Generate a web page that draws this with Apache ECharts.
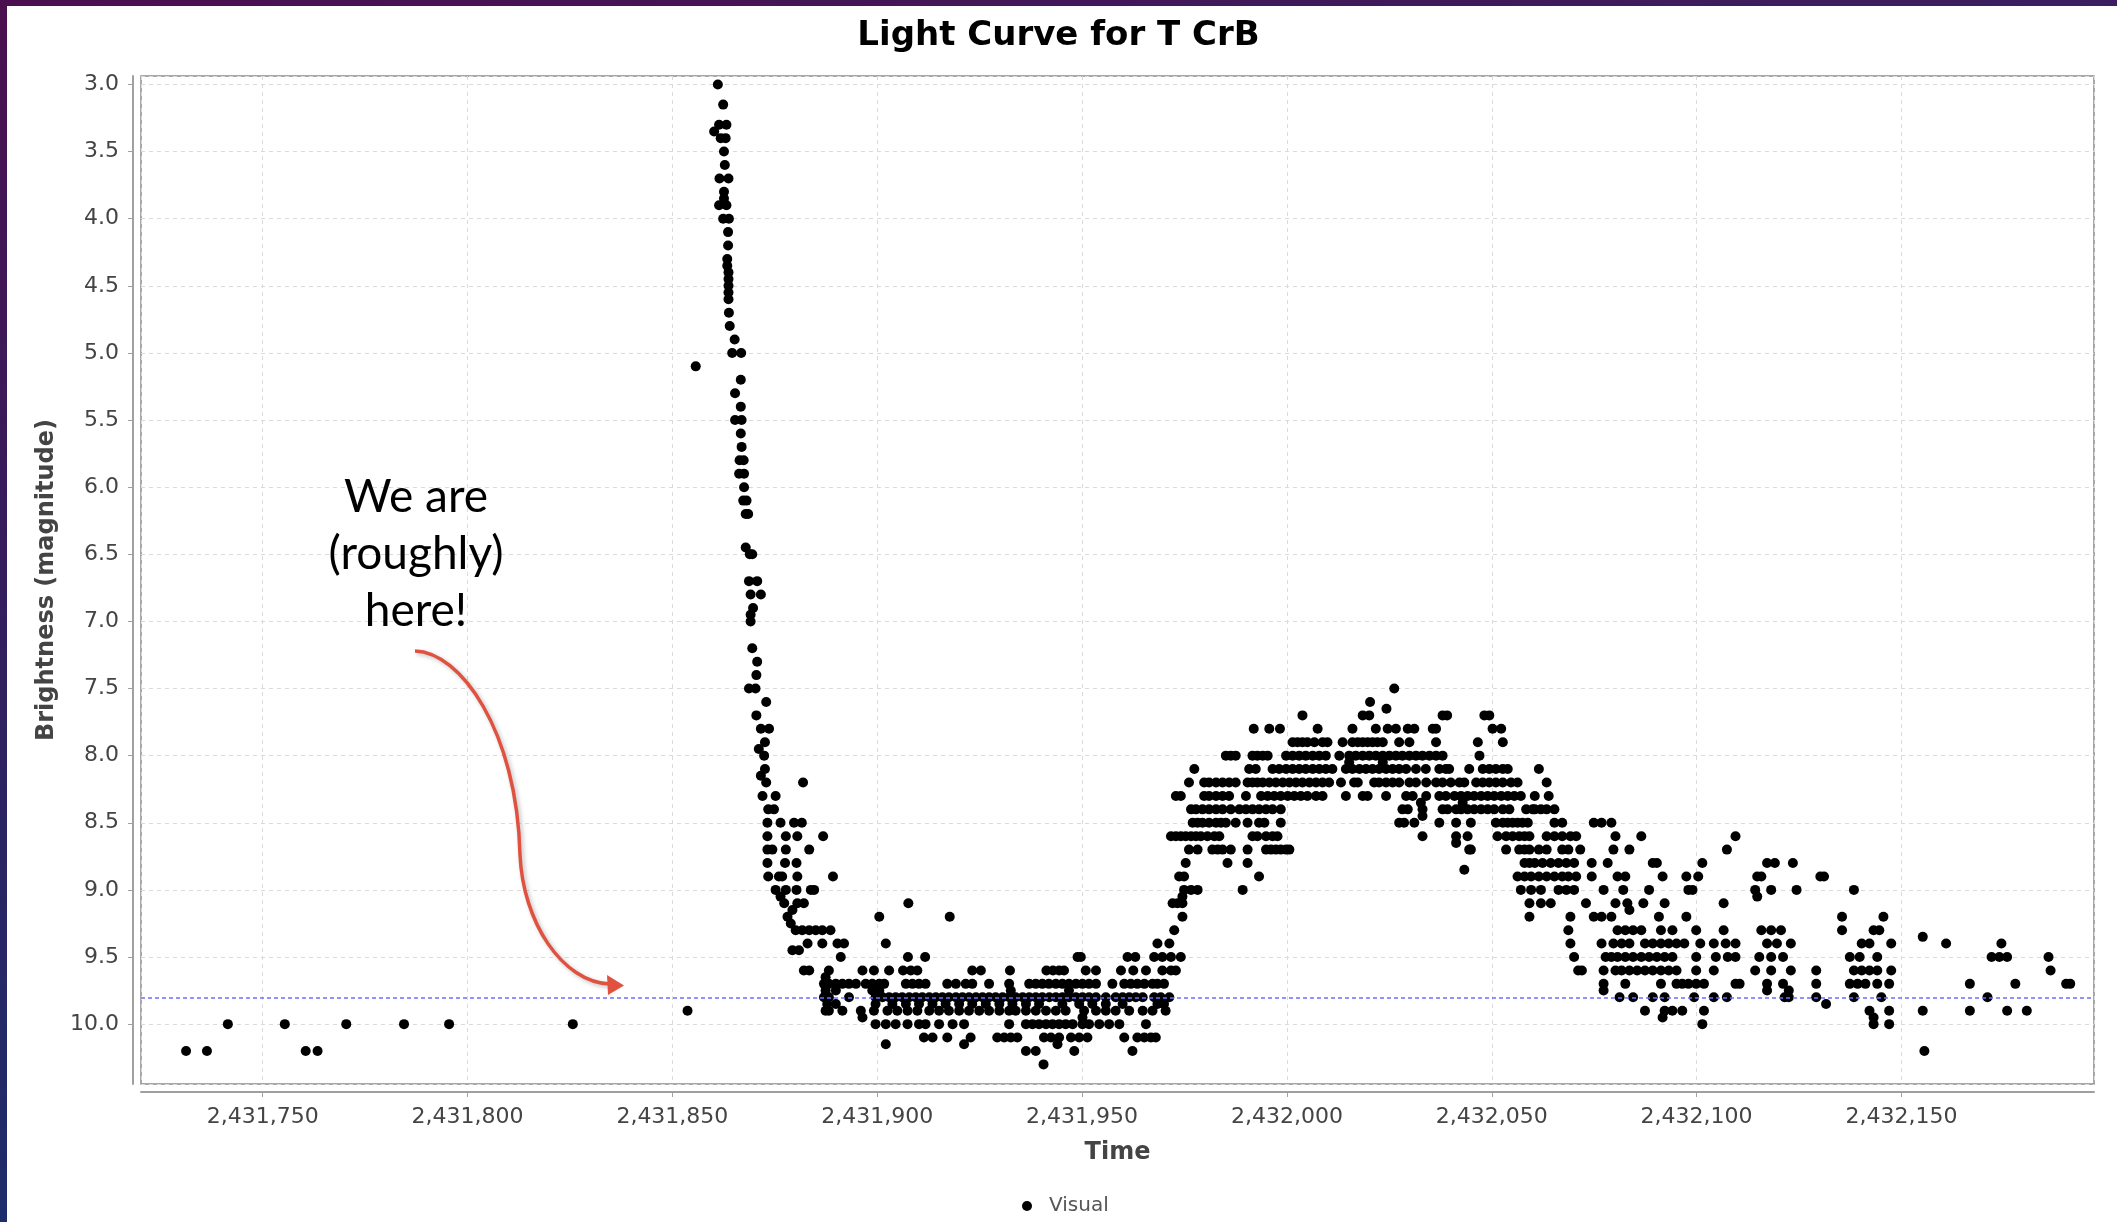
<!DOCTYPE html>
<html>
<head>
<meta charset="utf-8">
<script src="https://cdn.jsdelivr.net/npm/echarts@6/dist/echarts.min.js"></script>
<style>
html,body{margin:0;padding:0;background:#fff;}
#main{width:2117px;height:1222px;}
</style>
</head>
<body>
<div id="main"></div>
<script>
// ---- DATA: [Julian Date, visual magnitude] ----
const chartTitle = 'Light Curve for T CrB';
const xAxisName = 'Time';
const yAxisName = 'Brightness (magnitude)';
const seriesName = 'Visual';
const quiescentLevel = 9.8;
const annotationLines = ['We are', '(roughly)', 'here!'];

const quiescentBefore = [
[2431731.3,10.2],[2431736.4,10.2],[2431741.5,10.0],[2431755.4,10.0],[2431760.5,10.2],[2431763.4,10.2],
[2431770.4,10.0],[2431784.5,10.0],[2431795.5,10.0],[2431825.7,10.0],[2431853.7,9.9]
];

const outburstPeak = [
[2431861.1,3.0],[2431862.4,3.15],[2431863.2,3.3],[2431861.4,3.3],[2431860.2,3.35],[2431861.8,3.4],[2431863.0,3.4],
[2431862.6,3.5],[2431862.8,3.6],[2431861.5,3.7],[2431863.7,3.7],[2431862.6,3.8],[2431862.6,3.85],[2431861.4,3.9],
[2431863.2,3.9],[2431862.4,4.0],[2431863.8,4.0],[2431863.6,4.1],[2431863.6,4.2],[2431863.4,4.3],[2431863.4,4.35],
[2431863.7,4.4],[2431863.7,4.45],[2431863.7,4.5],[2431863.7,4.55],[2431863.7,4.6],[2431863.8,4.7],[2431864.0,4.8],
[2431865.2,4.9],[2431864.6,5.0],[2431866.8,5.0],[2431855.7,5.1],[2431866.7,5.2],[2431865.3,5.3],[2431866.7,5.4],
[2431865.3,5.5],[2431866.9,5.5],[2431866.7,5.6],[2431866.9,5.7],[2431866.4,5.8],[2431867.4,5.8],[2431866.3,5.9],
[2431867.5,5.9],[2431867.5,6.0],[2431867.3,6.1],[2431868.1,6.1],[2431867.9,6.2],[2431868.5,6.2]
];

const outburstDecline = [
[2431867.9,6.45],[2431868.9,6.5],[2431869.5,6.5],[2431868.7,6.7],[2431870.7,6.7],[2431869.1,6.8],[2431871.6,6.8],
[2431869.7,6.9],[2431869.1,6.95],[2431869.1,7.0],[2431869.5,7.2],[2431870.7,7.3],[2431870.5,7.4],[2431868.7,7.5],
[2431870.3,7.5],[2431872.9,7.6],[2431870.5,7.7],[2431871.6,7.8],[2431873.6,7.8],[2431872.6,7.9],[2431871.1,7.95],
[2431872.4,8.0],[2431872.6,8.1],[2431871.6,8.15],[2431872.9,8.2],[2431881.9,8.2],[2431872.0,8.3],[2431875.2,8.3],
[2431873.4,8.4],[2431874.8,8.4],[2431873.2,8.5],[2431876.4,8.5],[2431879.7,8.5],[2431881.6,8.5],[2431873.2,8.6],
[2431877.7,8.6],[2431880.5,8.6],[2431886.8,8.6],[2431873.2,8.7],[2431874.4,8.7],[2431877.7,8.7],[2431883.4,8.7],
[2431873.2,8.8],[2431877.5,8.8],[2431880.3,8.8],[2431873.4,8.9],[2431876.0,8.9],[2431876.8,8.9],[2431880.5,8.9],
[2431889.2,8.9],[2431875.2,9.0],[2431877.7,9.0],[2431880.3,9.0],[2431883.8,9.0],[2431884.6,9.0],[2431876.4,9.05],
[2431877.3,9.1],[2431880.5,9.1],[2431882.1,9.1],[2431879.3,9.15],[2431878.1,9.2],[2431878.9,9.25],[2431880.1,9.3],
[2431881.7,9.3],[2431883.4,9.3],[2431885.0,9.3],[2431886.6,9.3],[2431879.3,9.45],[2431880.9,9.45],[2431883.0,9.4],
[2431886.6,9.4],[2431882.1,9.6],[2431883.4,9.6],[2431887.4,9.65],[2431887.0,9.7],[2431887.4,9.75],[2431887.0,9.8],
[2431887.8,9.85],[2431887.4,9.9]
];

const minimumPhase = [
[2431907.6,9.1],[2431900.5,9.2],[2431917.7,9.2],[2431888.6,9.3],
[2431890.3,9.4],[2431891.9,9.4],[2431902.1,9.4],
[2431891.1,9.5],[2431907.5,9.5],[2431911.7,9.5],[2431948.9,9.5],[2431949.7,9.5],[2431961.1,9.5],[2431963.0,9.5],
[2431888.2,9.6],[2431896.4,9.6],[2431899.2,9.6],[2431902.9,9.6],[2431906.3,9.6],[2431908.2,9.6],[2431909.8,9.6],
[2431923.2,9.6],[2431925.3,9.6],[2431932.4,9.6],[2431941.3,9.6],[2431942.9,9.6],[2431944.4,9.6],[2431945.6,9.6],
[2431950.9,9.6],[2431953.4,9.6],[2431959.5,9.6],[2431962.5,9.6],[2431965.6,9.6],
[2431888.2,9.7],[2431889.9,9.7],[2431891.5,9.7],[2431893.1,9.7],[2431894.8,9.7],[2431897.2,9.7],[2431898.8,9.7],
[2431900.5,9.7],[2431901.7,9.7],[2431907.0,9.7],[2431908.6,9.7],[2431910.2,9.7],[2431911.8,9.7],[2431917.1,9.7],
[2431919.2,9.7],[2431921.6,9.7],[2431923.2,9.7],[2431927.3,9.7],[2431932.2,9.7],[2431937.1,9.7],[2431938.7,9.7],
[2431940.3,9.7],[2431941.9,9.7],[2431943.6,9.7],[2431945.2,9.7],[2431946.8,9.7],[2431948.5,9.7],[2431950.1,9.7],
[2431951.7,9.7],[2431953.4,9.7],[2431957.4,9.7],[2431960.3,9.7],[2431961.9,9.7],[2431963.5,9.7],[2431965.2,9.7],
[2431889.9,9.75],[2431898.8,9.75],[2431900.5,9.75],[2431932.6,9.75],[2431946.8,9.75],
[2431888.2,9.8],[2431893.1,9.8],[2431899.6,9.8],[2431901.3,9.8],[2431902.9,9.8],[2431904.5,9.8],[2431906.1,9.8],
[2431907.8,9.8],[2431909.4,9.8],[2431911.0,9.8],[2431912.7,9.8],[2431914.3,9.8],[2431915.9,9.8],[2431917.5,9.8],
[2431919.2,9.8],[2431920.8,9.8],[2431922.4,9.8],[2431924.1,9.8],[2431925.7,9.8],[2431927.3,9.8],[2431928.9,9.8],
[2431930.6,9.8],[2431932.2,9.8],[2431933.8,9.8],[2431935.5,9.8],[2431937.1,9.8],[2431938.7,9.8],[2431940.3,9.8],
[2431942.0,9.8],[2431943.6,9.8],[2431945.2,9.8],[2431946.8,9.8],[2431948.5,9.8],[2431950.1,9.8],[2431951.7,9.8],
[2431953.4,9.8],[2431955.8,9.8],[2431958.2,9.8],[2431959.9,9.8],[2431961.5,9.8],[2431963.1,9.8],[2431964.8,9.8],
[2431889.9,9.85],[2431899.6,9.85],[2431903.7,9.85],[2431907.0,9.85],[2431910.2,9.85],[2431913.5,9.85],[2431916.7,9.85],
[2431920.0,9.85],[2431923.2,9.85],[2431926.5,9.85],[2431929.8,9.85],[2431933.0,9.85],[2431936.3,9.85],[2431939.5,9.85],
[2431945.2,9.85],[2431949.3,9.85],[2431952.5,9.85],[2431955.8,9.85],[2431959.9,9.85],
[2431888.2,9.9],[2431891.5,9.9],[2431896.0,9.9],[2431899.2,9.9],[2431902.5,9.9],[2431904.9,9.9],[2431907.4,9.9],
[2431909.8,9.9],[2431912.7,9.9],[2431915.1,9.9],[2431917.5,9.9],[2431920.0,9.9],[2431922.4,9.9],[2431924.9,9.9],
[2431927.3,9.9],[2431929.8,9.9],[2431932.2,9.9],[2431933.8,9.9],[2431936.3,9.9],[2431938.7,9.9],[2431941.2,9.9],
[2431943.6,9.9],[2431946.0,9.9],[2431950.5,9.9],[2431953.4,9.9],[2431955.8,9.9],[2431958.2,9.9],[2431961.5,9.9],
[2431964.8,9.9],
[2431896.4,9.95],[2431950.1,9.95],
[2431899.6,10.0],[2431902.1,10.0],[2431904.5,10.0],[2431907.4,10.0],[2431910.2,10.0],[2431911.8,10.0],[2431915.1,10.0],
[2431918.4,10.0],[2431921.2,10.0],[2431932.2,10.0],[2431936.3,10.0],[2431937.9,10.0],[2431939.5,10.0],[2431941.2,10.0],
[2431942.8,10.0],[2431944.4,10.0],[2431946.0,10.0],[2431947.7,10.0],[2431950.1,10.0],[2431951.7,10.0],[2431954.2,10.0],
[2431956.6,10.0],[2431959.1,10.0],[2431965.6,10.0],
[2431911.4,10.1],[2431913.5,10.1],[2431917.1,10.1],[2431922.8,10.1],[2431929.3,10.1],[2431931.0,10.1],[2431932.6,10.1],
[2431934.2,10.1],[2431940.7,10.1],[2431942.4,10.1],[2431944.4,10.1],[2431947.3,10.1],[2431949.3,10.1],[2431951.3,10.1],
[2431960.3,10.1],[2431963.5,10.1],[2431965.2,10.1],
[2431902.1,10.15],[2431921.2,10.15],[2431944.0,10.15],
[2431936.3,10.2],[2431938.7,10.2],[2431948.1,10.2],[2431962.3,10.2],
[2431940.6,10.3]
];

const secondaryMaximum = [
[2432026.2,7.5],[2432020.3,7.6],[2432024.3,7.65],
[2432003.8,7.7],[2432018.5,7.7],[2432020.1,7.7],[2432038.0,7.7],[2432039.1,7.7],[2432048.2,7.7],[2432049.4,7.7],
[2431991.9,7.8],[2431995.7,7.8],[2431998.3,7.8],[2432007.5,7.8],[2432016.0,7.8],[2432021.7,7.8],[2432024.6,7.8],
[2432026.6,7.8],[2432029.5,7.8],[2432031.1,7.8],[2432035.6,7.8],[2432036.4,7.8],[2432050.2,7.8],[2432052.3,7.8],
[2432001.4,7.9],[2432002.6,7.9],[2432003.8,7.9],[2432005.0,7.9],[2432006.7,7.9],[2432008.7,7.9],[2432009.9,7.9],
[2432013.6,7.9],[2432016.0,7.9],[2432017.3,7.9],[2432018.5,7.9],[2432019.7,7.9],[2432020.9,7.9],[2432022.1,7.9],
[2432023.4,7.9],[2432027.4,7.9],[2432029.9,7.9],[2432036.4,7.9],[2432046.6,7.9],[2432052.7,7.9],
[2431985.1,8.0],[2431986.3,8.0],[2431987.5,8.0],[2431991.6,8.0],[2431992.8,8.0],[2431994.1,8.0],[2431995.3,8.0],
[2431999.8,8.0],[2432001.4,8.0],[2432003.0,8.0],[2432004.6,8.0],[2432006.3,8.0],[2432007.9,8.0],[2432009.5,8.0],
[2432012.8,8.0],[2432015.2,8.0],[2432016.8,8.0],[2432018.5,8.0],[2432020.1,8.0],[2432021.7,8.0],[2432023.4,8.0],
[2432025.0,8.0],[2432026.6,8.0],[2432028.2,8.0],[2432029.9,8.0],[2432031.5,8.0],[2432033.1,8.0],[2432034.8,8.0],
[2432036.4,8.0],[2432038.0,8.0],[2432047.0,8.0],
[2432015.2,8.05],[2432023.4,8.05],
[2431977.4,8.1],[2431990.8,8.1],[2431992.4,8.1],[2431996.5,8.1],[2431998.1,8.1],[2431999.8,8.1],[2432001.4,8.1],
[2432003.0,8.1],[2432004.6,8.1],[2432006.3,8.1],[2432007.9,8.1],[2432009.5,8.1],[2432011.1,8.1],[2432014.4,8.1],
[2432016.0,8.1],[2432017.7,8.1],[2432019.3,8.1],[2432020.9,8.1],[2432022.5,8.1],[2432024.2,8.1],[2432025.8,8.1],
[2432027.4,8.1],[2432029.1,8.1],[2432031.5,8.1],[2432033.9,8.1],[2432037.2,8.1],[2432038.8,8.1],[2432039.6,8.1],
[2432044.5,8.1],[2432047.8,8.1],[2432049.4,8.1],[2432051.0,8.1],[2432052.7,8.1],[2432053.9,8.1],
[2431976.1,8.2],[2431979.8,8.2],[2431981.0,8.2],[2431982.7,8.2],[2431984.3,8.2],[2431985.9,8.2],[2431987.5,8.2],
[2431990.4,8.2],[2431991.6,8.2],[2431992.8,8.2],[2431994.1,8.2],[2431995.7,8.2],[2431997.3,8.2],[2431999.0,8.2],
[2432000.6,8.2],[2432002.2,8.2],[2432003.8,8.2],[2432005.5,8.2],[2432007.1,8.2],[2432008.7,8.2],[2432010.3,8.2],
[2432013.2,8.2],[2432016.4,8.2],[2432017.3,8.2],[2432021.3,8.2],[2432022.5,8.2],[2432024.2,8.2],[2432025.8,8.2],
[2432027.4,8.2],[2432029.9,8.2],[2432031.5,8.2],[2432034.0,8.2],[2432036.4,8.2],[2432038.0,8.2],[2432040.0,8.2],
[2432042.1,8.2],[2432043.3,8.2],[2432046.2,8.2],[2432047.8,8.2],[2432049.4,8.2],[2432051.0,8.2],[2432052.7,8.2],
[2432054.7,8.2],[2432056.3,8.2],
[2431972.9,8.3],[2431974.1,8.3],[2431979.8,8.3],[2431981.0,8.3],[2431982.7,8.3],[2431984.3,8.3],[2431985.9,8.3],
[2431990.0,8.3],[2431993.7,8.3],[2431995.3,8.3],[2431996.9,8.3],[2431998.5,8.3],[2432000.2,8.3],[2432001.8,8.3],
[2432003.4,8.3],[2432005.0,8.3],[2432007.1,8.3],[2432008.7,8.3],[2432014.4,8.3],[2432018.5,8.3],[2432019.7,8.3],
[2432024.2,8.3],[2432029.1,8.3],[2432030.7,8.3],[2432034.0,8.3],[2432037.2,8.3],[2432038.8,8.3],[2432040.9,8.3],
[2432042.5,8.3],[2432044.1,8.3],[2432045.7,8.3],[2432047.4,8.3],[2432049.0,8.3],[2432050.6,8.3],[2432052.3,8.3],
[2432053.9,8.3],[2432055.5,8.3],[2432057.1,8.3],
[2432032.7,8.35],[2432042.9,8.35],
[2431976.6,8.4],[2431977.8,8.4],[2431979.4,8.4],[2431981.0,8.4],[2431982.7,8.4],[2431984.3,8.4],[2431986.3,8.4],
[2431988.4,8.4],[2431990.0,8.4],[2431991.6,8.4],[2431993.2,8.4],[2431994.9,8.4],[2431996.5,8.4],[2431998.5,8.4],
[2432028.2,8.4],[2432029.5,8.4],[2432033.1,8.4],[2432038.0,8.4],[2432039.2,8.4],[2432041.3,8.4],[2432042.5,8.4],
[2432044.1,8.4],[2432045.7,8.4],[2432047.4,8.4],[2432049.0,8.4],[2432050.6,8.4],[2432052.7,8.4],[2432054.3,8.4],
[2432058.4,8.4],[2432060.0,8.4],
[2432033.1,8.45],
[2431977.0,8.5],[2431978.2,8.5],[2431979.4,8.5],[2431981.0,8.5],[2431982.7,8.5],[2431983.9,8.5],[2431985.1,8.5],
[2431987.5,8.5],[2431990.4,8.5],[2431993.2,8.5],[2431994.5,8.5],[2431998.5,8.5],[2432027.4,8.5],[2432028.6,8.5],
[2432031.1,8.5],[2432037.2,8.5],[2432041.3,8.5],[2432044.9,8.5],[2432051.0,8.5],[2432052.7,8.5],[2432053.9,8.5],
[2432055.1,8.5],[2432056.3,8.5],[2432057.5,8.5],[2432058.8,8.5],
[2431971.7,8.6],[2431972.9,8.6],[2431974.1,8.6],[2431975.3,8.6],[2431976.6,8.6],[2431977.8,8.6],[2431979.0,8.6],
[2431980.6,8.6],[2431982.3,8.6],[2431983.5,8.6],[2431991.6,8.6],[2431992.8,8.6],[2431994.9,8.6],[2431996.5,8.6],
[2431997.7,8.6],[2432033.1,8.6],[2432041.3,8.6],[2432044.1,8.6],[2432051.4,8.6],[2432053.5,8.6],[2432055.1,8.6],
[2432056.7,8.6],[2432058.0,8.6],[2432059.2,8.6],
[2432041.3,8.65],
[2431976.1,8.7],[2431978.2,8.7],[2431981.8,8.7],[2431983.1,8.7],[2431984.3,8.7],[2431986.3,8.7],[2431990.4,8.7],
[2431994.9,8.7],[2431996.1,8.7],[2431997.3,8.7],[2431998.5,8.7],[2431999.8,8.7],[2432000.6,8.7],[2432044.5,8.7],
[2432044.9,8.7],[2432053.5,8.7],[2432056.7,8.7],[2432058.0,8.7],[2432059.2,8.7],
[2431975.3,8.8],[2431985.5,8.8],[2431990.4,8.8],[2432058.0,8.8],[2432059.2,8.8],
[2432043.3,8.85],
[2431973.7,8.9],[2431974.9,8.9],[2431993.2,8.9],[2432056.3,8.9],[2432058.0,8.9],[2432059.6,8.9],
[2431974.9,9.0],[2431976.6,9.0],[2431978.2,9.0],[2431989.2,9.0],[2432057.1,9.0],[2432059.6,9.0],
[2431974.5,9.05],
[2431972.1,9.1],[2431973.3,9.1],[2431974.5,9.1],[2432059.2,9.1],
[2431974.5,9.2],[2432059.2,9.2],
[2431972.5,9.3],
[2431968.4,9.4],[2431971.3,9.4],
[2431967.6,9.5],[2431969.6,9.5],[2431971.7,9.5],[2431974.1,9.5],
[2431969.6,9.6],[2431971.7,9.6],[2431972.9,9.6],
[2431967.2,9.7],[2431968.4,9.7],[2431970.0,9.7],
[2431967.6,9.8],[2431969.2,9.8],[2431971.3,9.8],
[2431968.4,9.85],[2431970.0,9.85],
[2431967.2,9.9],[2431970.4,9.9],
[2431966.8,10.1],[2431968.0,10.1]
];

const lateFade = [
[2432061.5,8.1],[2432063.4,8.2],[2432060.5,8.3],[2432063.9,8.3],
[2432060.5,8.4],[2432062.0,8.4],[2432063.4,8.4],[2432065.3,8.4],
[2432065.3,8.5],[2432067.2,8.5],[2432074.9,8.5],[2432076.8,8.5],[2432079.2,8.5],
[2432063.4,8.6],[2432065.3,8.6],[2432067.2,8.6],[2432069.2,8.6],[2432070.6,8.6],[2432080.2,8.6],[2432086.5,8.6],[2432109.5,8.6],
[2432061.5,8.7],[2432063.4,8.7],[2432067.2,8.7],[2432068.7,8.7],[2432071.6,8.7],[2432079.7,8.7],[2432083.6,8.7],[2432107.4,8.7],
[2432060.5,8.8],[2432062.4,8.8],[2432064.4,8.8],[2432066.3,8.8],[2432068.2,8.8],[2432070.1,8.8],[2432074.4,8.8],
[2432078.3,8.8],[2432089.3,8.8],[2432090.3,8.8],[2432101.4,8.8],[2432117.2,8.8],[2432119.1,8.8],[2432123.5,8.8],
[2432061.5,8.9],[2432063.4,8.9],[2432065.3,8.9],[2432067.2,8.9],[2432068.7,8.9],[2432070.6,8.9],[2432074.4,8.9],
[2432080.7,8.9],[2432082.6,8.9],[2432091.7,8.9],[2432097.5,8.9],[2432100.4,8.9],[2432114.8,8.9],[2432115.8,8.9],
[2432130.2,8.9],[2432131.1,8.9],
[2432062.0,9.0],[2432066.3,9.0],[2432068.2,9.0],[2432070.1,9.0],[2432077.3,9.0],[2432082.1,9.0],[2432088.4,9.0],
[2432098.0,9.0],[2432099.0,9.0],[2432114.3,9.0],[2432118.2,9.0],[2432124.4,9.0],[2432138.4,9.0],
[2432114.8,9.05],
[2432062.0,9.1],[2432064.4,9.1],[2432073.0,9.1],[2432080.2,9.1],[2432083.1,9.1],[2432087.0,9.1],[2432092.2,9.1],[2432106.6,9.1],
[2432083.6,9.15],
[2432069.2,9.2],[2432074.9,9.2],[2432076.8,9.2],[2432079.2,9.2],[2432090.8,9.2],[2432097.5,9.2],[2432135.5,9.2],[2432145.6,9.2],
[2432068.7,9.3],[2432080.7,9.3],[2432082.6,9.3],[2432084.5,9.3],[2432086.5,9.3],[2432091.3,9.3],[2432094.1,9.3],
[2432099.9,9.3],[2432106.6,9.3],[2432115.8,9.3],[2432118.2,9.3],[2432120.6,9.3],[2432135.5,9.3],[2432143.2,9.3],[2432144.6,9.3],
[2432155.2,9.35],
[2432069.2,9.4],[2432076.8,9.4],[2432079.7,9.4],[2432081.7,9.4],[2432083.6,9.4],[2432087.4,9.4],[2432089.3,9.4],
[2432091.3,9.4],[2432093.2,9.4],[2432095.1,9.4],[2432097.0,9.4],[2432100.9,9.4],[2432104.2,9.4],[2432107.1,9.4],
[2432109.5,9.4],[2432117.2,9.4],[2432119.6,9.4],[2432123.0,9.4],[2432140.3,9.4],[2432142.2,9.4],[2432147.5,9.4],
[2432160.9,9.4],[2432174.4,9.4],
[2432070.1,9.5],[2432077.8,9.5],[2432079.2,9.5],[2432080.7,9.5],[2432082.6,9.5],[2432084.5,9.5],[2432086.5,9.5],
[2432088.4,9.5],[2432090.3,9.5],[2432092.2,9.5],[2432094.1,9.5],[2432099.9,9.5],[2432104.7,9.5],[2432107.6,9.5],
[2432109.5,9.5],[2432115.3,9.5],[2432118.2,9.5],[2432121.1,9.5],[2432137.4,9.5],[2432139.8,9.5],[2432144.1,9.5],
[2432172.0,9.5],[2432173.9,9.5],[2432175.8,9.5],[2432185.9,9.5],
[2432071.1,9.6],[2432072.0,9.6],[2432077.3,9.6],[2432080.2,9.6],[2432081.7,9.6],[2432083.6,9.6],[2432085.5,9.6],
[2432087.4,9.6],[2432089.3,9.6],[2432091.3,9.6],[2432093.2,9.6],[2432095.1,9.6],[2432099.9,9.6],[2432104.2,9.6],
[2432114.3,9.6],[2432118.2,9.6],[2432123.0,9.6],[2432129.2,9.6],[2432138.4,9.6],[2432140.3,9.6],[2432142.2,9.6],
[2432144.1,9.6],[2432147.5,9.6],[2432186.4,9.6],
[2432077.3,9.7],[2432082.6,9.7],[2432091.3,9.7],[2432095.1,9.7],[2432096.5,9.7],[2432098.0,9.7],[2432099.9,9.7],
[2432101.8,9.7],[2432109.5,9.7],[2432110.5,9.7],[2432117.2,9.7],[2432121.1,9.7],[2432129.2,9.7],[2432137.4,9.7],
[2432139.3,9.7],[2432141.2,9.7],[2432144.1,9.7],[2432147.0,9.7],[2432166.7,9.7],[2432177.8,9.7],[2432190.2,9.7],[2432191.2,9.7],
[2432077.3,9.75],[2432117.2,9.75],[2432122.5,9.75],
[2432081.2,9.8],[2432084.5,9.8],[2432089.3,9.8],[2432092.2,9.8],[2432099.4,9.8],[2432104.2,9.8],[2432107.4,9.8],
[2432121.5,9.8],[2432122.5,9.8],[2432129.2,9.8],[2432138.4,9.8],[2432145.1,9.8],[2432171.0,9.8],
[2432131.6,9.85],
[2432087.4,9.9],[2432092.2,9.9],[2432094.1,9.9],[2432096.5,9.9],[2432101.8,9.9],[2432142.2,9.9],[2432147.0,9.9],
[2432155.2,9.9],[2432166.7,9.9],[2432175.8,9.9],[2432180.6,9.9],
[2432091.7,9.95],[2432143.2,9.95],
[2432101.4,10.0],[2432143.2,10.0],[2432147.0,10.0],
[2432155.6,10.2]
];

// ---- CHART ----
const allPoints = [].concat(quiescentBefore, outburstPeak, outburstDecline, minimumPhase, secondaryMaximum, lateFade);

function withCommas(v) {
  return String(Math.round(v)).replace(/\B(?=(\d{3})+(?!\d))/g, ',');
}

const chart = echarts.init(document.getElementById('main'), null, {renderer: 'canvas', width: 2117, height: 1222});

const red = '#e0523f';
const option = {
  animation: false,
  backgroundColor: '#ffffff',
  title: {
    text: chartTitle, left: 'center', top: 14,
    textStyle: {fontFamily: 'DejaVu Sans', fontWeight: 'bold', fontSize: 34, color: '#000'}
  },
  legend: {
    data: [{name: seriesName, icon: 'circle'}],
    left: 1017, top: 1191, itemWidth: 34, itemHeight: 10,
    textStyle: {fontFamily: 'DejaVu Sans', fontSize: 20, color: '#555'}
  },
  grid: {
    left: 141, top: 76, width: 1953, height: 1008,
    show: true, borderColor: '#8c8c8c', borderWidth: 1.5, backgroundColor: '#fff'
  },
  xAxis: {
    type: 'value', min: 2431720.3, max: 2432197, splitNumber: 10, offset: 8,
    name: xAxisName, nameLocation: 'middle', nameGap: 49,
    nameTextStyle: {fontFamily: 'DejaVu Sans', fontWeight: 'bold', fontSize: 24, color: '#444'},
    axisLine: {show: true, lineStyle: {color: '#a0a0a0', width: 2}},
    axisTick: {show: true, length: 5, lineStyle: {color: '#a0a0a0'}},
    axisLabel: {
      showMinLabel: false, showMaxLabel: false, margin: 14,
      fontFamily: 'DejaVu Sans', fontSize: 22, color: '#444',
      formatter: withCommas
    },
    splitLine: {show: true, lineStyle: {color: '#dadada', type: [4, 4], width: 1}}
  },
  yAxis: {
    type: 'value', inverse: true, min: 2.937, max: 10.446, splitNumber: 15, offset: 8,
    name: yAxisName, nameLocation: 'middle', nameGap: 74, nameRotate: 90,
    nameTextStyle: {fontFamily: 'DejaVu Sans', fontWeight: 'bold', fontSize: 24, color: '#444'},
    axisLine: {show: true, lineStyle: {color: '#a0a0a0', width: 2}},
    axisTick: {show: true, length: 5, lineStyle: {color: '#a0a0a0'}},
    axisLabel: {
      showMinLabel: false, showMaxLabel: false, margin: 14,
      fontFamily: 'DejaVu Sans', fontSize: 22, color: '#444',
      formatter: v => v.toFixed(1)
    },
    splitLine: {show: true, lineStyle: {color: '#dadada', type: [4, 4], width: 1}}
  },
  series: [{
    name: seriesName, type: 'scatter', symbol: 'circle', symbolSize: 10,
    itemStyle: {color: '#000', opacity: 1},
    data: allPoints,
    markLine: {
      silent: true, symbol: 'none', animation: false,
      label: {show: false},
      lineStyle: {color: '#6f6fff', type: [4, 3], width: 1.5},
      data: [{yAxis: quiescentLevel}]
    }
  }],
  graphic: [
    {type: 'rect', z: 100, shape: {x: 0, y: 0, width: 7, height: 1222},
     style: {fill: new echarts.graphic.LinearGradient(0, 0, 0, 1, [{offset: 0, color: '#4b0f4f'}, {offset: 1, color: '#1d2d6b'}])}},
    {type: 'rect', z: 100, shape: {x: 0, y: 0, width: 2117, height: 6},
     style: {fill: new echarts.graphic.LinearGradient(0, 0, 1, 0, [{offset: 0, color: '#4b0f4f'}, {offset: 1, color: '#3a1f60'}])}},
    {type: 'text', z: 100, x: 416, y: 469,
     style: {text: annotationLines.join('\n'), font: '46px Lato', fill: '#000', align: 'center', verticalAlign: 'top', lineHeight: 57}},
    {type: 'bezierCurve', z: 100,
     shape: {x1: 415, y1: 651, cpx1: 460, cpy1: 652, cpx2: 517, cpy2: 730, x2: 520, y2: 855},
     style: {stroke: red, lineWidth: 3.5, fill: null, shadowBlur: 4, shadowColor: 'rgba(0,0,0,0.25)', shadowOffsetX: 2, shadowOffsetY: 2}},
    {type: 'bezierCurve', z: 100,
     shape: {x1: 520, y1: 855, cpx1: 523, cpy1: 922, cpx2: 562, cpy2: 982, x2: 610, y2: 984},
     style: {stroke: red, lineWidth: 3.5, fill: null, shadowBlur: 4, shadowColor: 'rgba(0,0,0,0.25)', shadowOffsetX: 2, shadowOffsetY: 2}},
    {type: 'polygon', z: 100,
     shape: {points: [[624, 985.5], [607, 975], [608, 995]]},
     style: {fill: red}}
  ]
};
chart.setOption(option);
</script>
</body>
</html>
